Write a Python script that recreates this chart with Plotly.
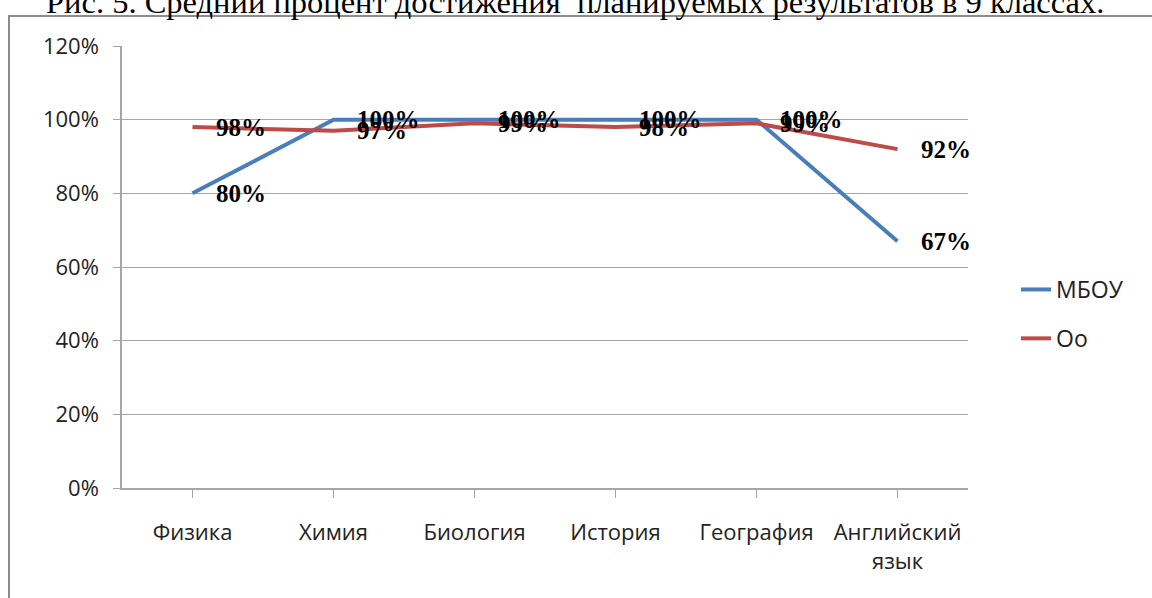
import plotly.graph_objects as go

categories = ["Физика", "Химия", "Биология", "История", "География", "Английский<br>язык"]
mbou = [0.80, 1.00, 1.00, 1.00, 1.00, 0.67]
oo = [0.98, 0.97, 0.99, 0.98, 0.99, 0.92]
y_ticks = [0, 0.2, 0.4, 0.6, 0.8, 1.0, 1.2]
title_text = "Рис. 5. Средний процент достижения  планируемых результатов в 9 классах."

W, H = 1152, 598
L, R, T, B = 122, 184, 46, 110
pw, ph = W - L - R, H - T - B

tick_font = dict(family="Open Sans", size=22, color="#222222")
label_font = dict(family="Liberation Serif", size=25, color="#000000")

fig = go.Figure()
fig.add_trace(go.Scatter(x=list(range(len(categories))), y=mbou, mode="lines", name="МБОУ",
                         legendgroup="a", line=dict(color="#4A7EBB", width=4)))
fig.add_trace(go.Scatter(x=list(range(len(categories))), y=oo, mode="lines", name="Оо",
                         legendgroup="b", line=dict(color="#BE4B48", width=4)))

annotations = []
for series in (mbou, oo):
    for i, v in enumerate(series):
        annotations.append(dict(x=i, y=v, xref="x", yref="y", text=f"<b>{round(v*100)}%</b>",
                                showarrow=False, xanchor="left", yanchor="middle", xshift=21,
                                font=label_font))
annotations.append(dict(x=(575 - L) / pw, y=(H - B - 2) / ph, xref="paper", yref="paper",
                        text=title_text, showarrow=False, xanchor="center", yanchor="middle",
                        font=dict(family="Liberation Serif", size=32.5, color="#000000")))

fig.update_layout(
    width=W, height=H,
    margin=dict(l=L, r=R, t=T, b=B),
    paper_bgcolor="white", plot_bgcolor="white",
    showlegend=True,
    legend=dict(x=(1016 - L) / pw, y=(H - B - 268) / ph, xanchor="left", yanchor="top",
                font=dict(family="Open Sans", size=23, color="#222222"),
                tracegroupgap=16, bgcolor="rgba(0,0,0,0)"),
    annotations=annotations,
    shapes=[dict(type="rect", xref="paper", yref="paper",
                 x0=(9 - L) / pw, x1=(1200 - L) / pw,
                 y0=(H - B - 640) / ph, y1=(H - B - 16) / ph,
                 line=dict(color="#8c8c8c", width=2), layer="below")],
)
fig.update_xaxes(range=[-0.5, len(categories) - 0.5], tickmode="array",
                 tickvals=list(range(len(categories))), ticktext=categories,
                 tickson="boundaries", ticks="outside", ticklen=8, tickcolor="#a6a6a6",
                 showline=True, linecolor="#a6a6a6", linewidth=1.5, showgrid=False,
                 tickfont=tick_font, ticklabelstandoff=16, zeroline=False)
fig.update_yaxes(range=[0, 1.2], tickmode="array", tickvals=y_ticks,
                 ticktext=[f"{round(v*100)}%" for v in y_ticks],
                 ticks="outside", ticklen=7, tickcolor="#a6a6a6",
                 showline=True, linecolor="#a6a6a6", linewidth=1.5,
                 showgrid=True, gridcolor="#a6a6a6", gridwidth=1, zeroline=False,
                 tickfont=tick_font, ticklabelstandoff=10)

fig.write_html("out.html", config={"displayModeBar": False},
               post_script="document.body.style.margin='0';")
